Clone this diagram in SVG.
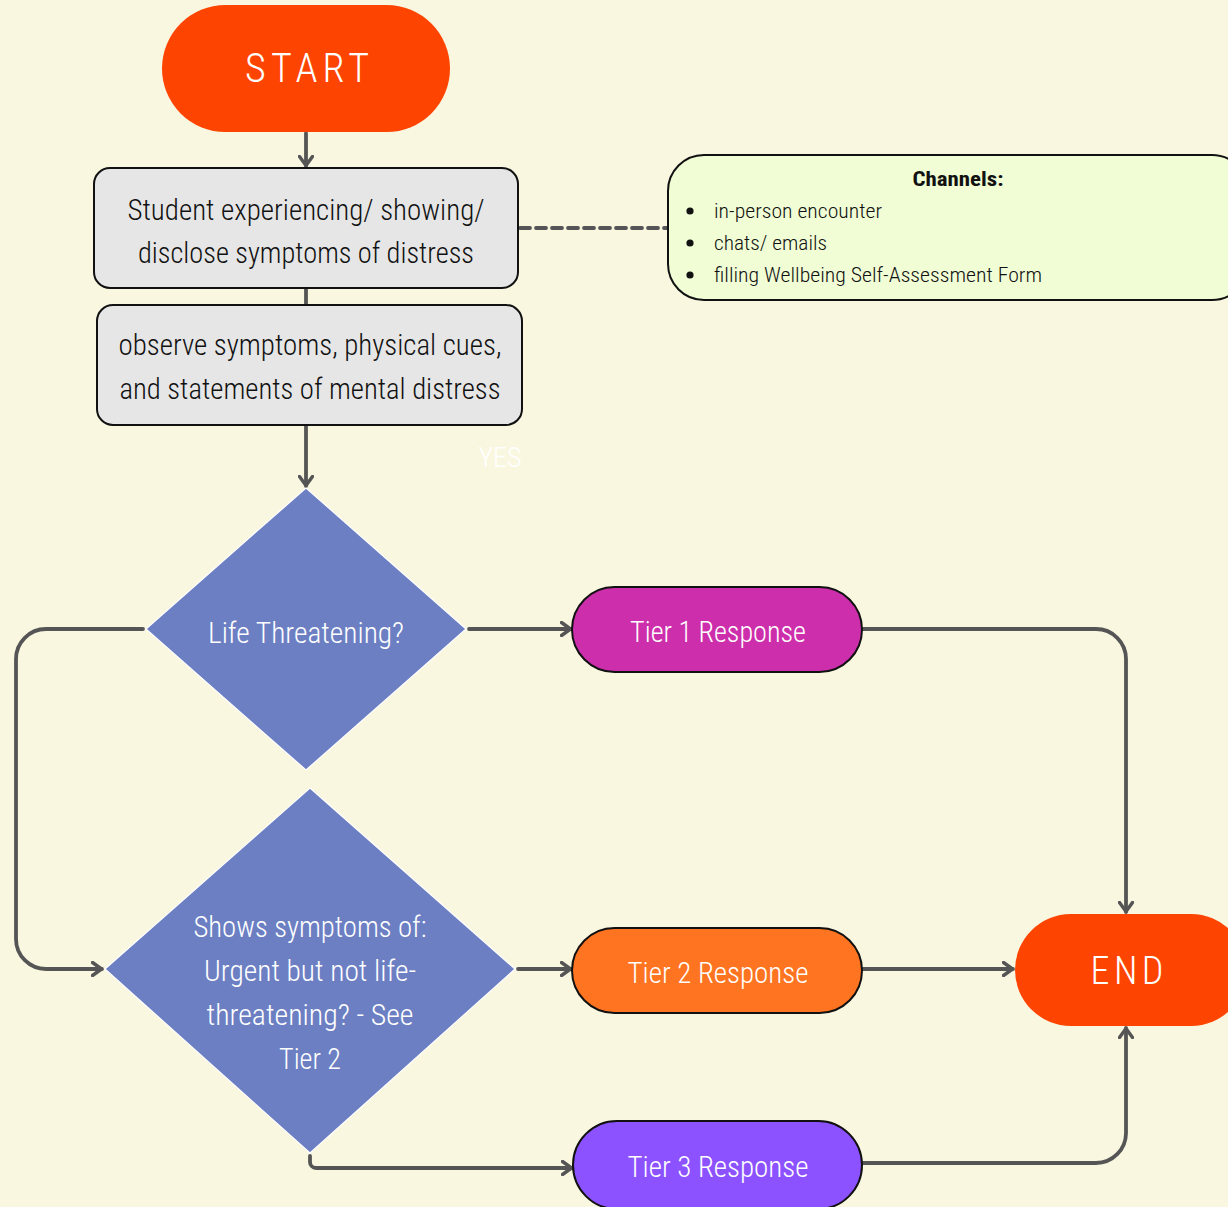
<svg xmlns="http://www.w3.org/2000/svg" width="1228" height="1207" viewBox="0 0 1228 1207">
<style>
  .t { font-family: "Roboto Condensed", "Liberation Sans Narrow", "Roboto", "Liberation Sans", sans-serif; }
  .w { fill: #ffffff; font-weight: 300; }
  .k { fill: #111111; font-weight: 300; }
  .box { fill: #e6e6e6; stroke: #111111; stroke-width: 2; }
  .pill { stroke: #111111; stroke-width: 2; }
  .dia { fill: #6c7fc3; stroke: #ffffff; stroke-width: 1.2; }
  .con { fill: none; stroke: #555555; stroke-width: 3.8; stroke-linecap: round; stroke-linejoin: round; }
</style>
<defs>
  <marker id="arr" viewBox="0 0 12 16" refX="11" refY="8" markerWidth="12" markerHeight="16" markerUnits="userSpaceOnUse" orient="auto">
    <path d="M1.5,1.5 L10.5,8 L1.5,14.5" fill="none" stroke="#555555" stroke-width="3.4" stroke-linecap="round" stroke-linejoin="round"/>
  </marker>
</defs>
<rect x="0" y="0" width="1228" height="1207" fill="#faf7e1"/>

<g id="connectors">
  <path class="con" d="M306,133 L306,166" marker-end="url(#arr)"/>
  <path class="con" d="M306,289 L306,304"/>
  <path class="con" d="M306,426 L306,486" marker-end="url(#arr)"/>
  <path class="con" d="M520,228 L667,228" stroke-dasharray="10 6" stroke-linecap="butt"/>
  <path class="con" d="M469,629 L571,629" marker-end="url(#arr)"/>
  <path class="con" d="M143,629 L46,629 A30,30 0 0 0 16,659 L16,939 A30,30 0 0 0 46,969 L102,969" marker-end="url(#arr)"/>
  <path class="con" d="M518,969 L571,969" marker-end="url(#arr)"/>
  <path class="con" d="M863,629 L1096,629 A30,30 0 0 1 1126,659 L1126,912" marker-end="url(#arr)"/>
  <path class="con" d="M863,969 L1013,969" marker-end="url(#arr)"/>
  <path class="con" d="M310,1156 L310,1162 A6,6 0 0 0 316,1168 L572,1168" marker-end="url(#arr)"/>
  <path class="con" d="M863,1163 L1096,1163 A30,30 0 0 0 1126,1133 L1126,1028" marker-end="url(#arr)"/>
</g>

<g id="start">
  <rect x="162" y="5" width="288" height="127" rx="63.5" fill="#fe4401"/>
  <text class="t w" x="307" y="82" font-size="40" text-anchor="middle" textLength="124" lengthAdjust="spacing">START</text>
</g>

<g id="student">
  <rect class="box" x="94" y="168" width="424" height="120" rx="16"/>
  <text class="t k" x="306" y="220" font-size="30" text-anchor="middle" textLength="357" lengthAdjust="spacingAndGlyphs">Student experiencing/ showing/</text>
  <text class="t k" x="306" y="263" font-size="30" text-anchor="middle" textLength="336" lengthAdjust="spacingAndGlyphs">disclose symptoms of distress</text>
</g>

<g id="observe">
  <rect class="box" x="97" y="305" width="425" height="120" rx="16"/>
  <text class="t k" x="310" y="355" font-size="30" text-anchor="middle" textLength="383" lengthAdjust="spacingAndGlyphs">observe symptoms, physical cues,</text>
  <text class="t k" x="310" y="399" font-size="30" text-anchor="middle" textLength="381" lengthAdjust="spacingAndGlyphs">and statements of mental distress</text>
</g>

<g id="channels">
  <rect x="668" y="155" width="580" height="145" rx="36" fill="#f0fdd5" stroke="#111111" stroke-width="2"/>
  <text class="t" fill="#111111" x="958" y="186" font-size="21" font-weight="bold" text-anchor="middle" textLength="91" lengthAdjust="spacingAndGlyphs">Channels:</text>
  <circle cx="690" cy="211" r="3.6" fill="#111111"/>
  <circle cx="690" cy="243" r="3.6" fill="#111111"/>
  <circle cx="690" cy="275" r="3.6" fill="#111111"/>
  <text class="t k" x="714" y="218" font-size="21" textLength="168" lengthAdjust="spacingAndGlyphs">in-person encounter</text>
  <text class="t k" x="714" y="250" font-size="21" textLength="113" lengthAdjust="spacingAndGlyphs">chats/ emails</text>
  <text class="t k" x="714" y="282" font-size="21" textLength="328" lengthAdjust="spacingAndGlyphs">filling Wellbeing Self-Assessment Form</text>
</g>

<g id="yes-label">
  <text class="t w" x="500" y="467" font-size="28" text-anchor="middle" textLength="43" lengthAdjust="spacingAndGlyphs">YES</text>
</g>

<g id="life-threatening">
  <polygon class="dia" points="306,488 466,629 306,770 146,629"/>
  <text class="t w" x="306" y="643" font-size="30" text-anchor="middle" textLength="196" lengthAdjust="spacingAndGlyphs">Life Threatening?</text>
</g>

<g id="urgent">
  <polygon class="dia" points="310,788 515,969 310,1153 105,969"/>
  <text class="t w" x="310" y="937" font-size="30" text-anchor="middle" textLength="233" lengthAdjust="spacingAndGlyphs">Shows symptoms of:</text>
  <text class="t w" x="310" y="981" font-size="30" text-anchor="middle" textLength="212" lengthAdjust="spacingAndGlyphs">Urgent but not life-</text>
  <text class="t w" x="310" y="1025" font-size="30" text-anchor="middle" textLength="207" lengthAdjust="spacingAndGlyphs">threatening? - See</text>
  <text class="t w" x="310" y="1069" font-size="30" text-anchor="middle" textLength="62" lengthAdjust="spacingAndGlyphs">Tier 2</text>
</g>

<g id="tier1">
  <rect class="pill" x="572" y="587" width="290" height="85" rx="42.5" fill="#cd2eab"/>
  <text class="t w" x="718" y="642" font-size="30" text-anchor="middle" textLength="176" lengthAdjust="spacingAndGlyphs">Tier 1 Response</text>
</g>

<g id="tier2">
  <rect class="pill" x="572" y="928" width="290" height="85" rx="42.5" fill="#ff7420"/>
  <text class="t w" x="718" y="983" font-size="30" text-anchor="middle" textLength="181" lengthAdjust="spacingAndGlyphs">Tier 2 Response</text>
</g>

<g id="tier3">
  <rect class="pill" x="573" y="1121" width="289" height="88" rx="44" fill="#8c52ff"/>
  <text class="t w" x="718" y="1177" font-size="30" text-anchor="middle" textLength="181" lengthAdjust="spacingAndGlyphs">Tier 3 Response</text>
</g>

<g id="end">
  <rect x="1015" y="914" width="232" height="112" rx="56" fill="#fe4401"/>
  <text class="t w" x="1127" y="984" font-size="38" text-anchor="middle" textLength="73" lengthAdjust="spacing">END</text>
</g>
</svg>
